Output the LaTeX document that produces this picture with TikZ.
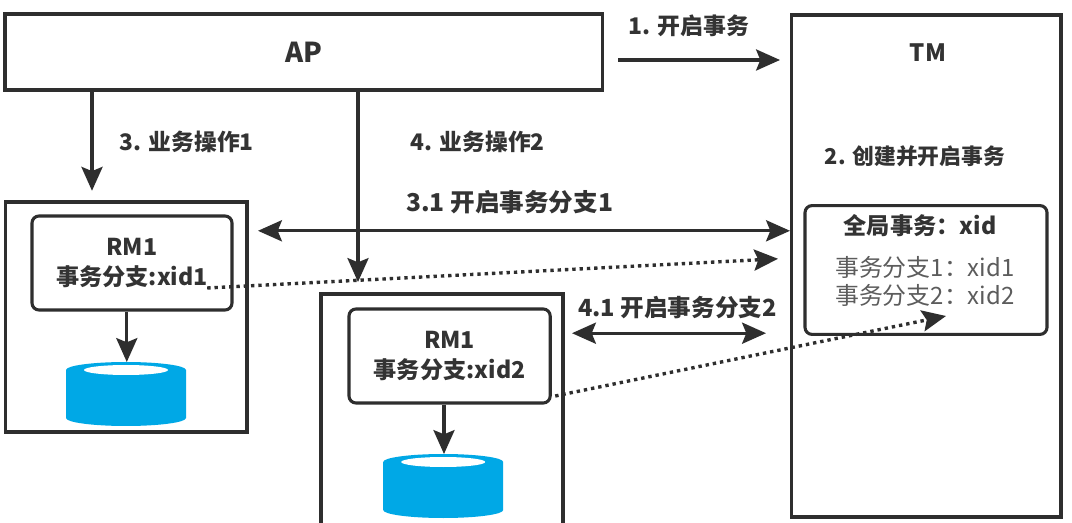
\documentclass[tikz,border=0pt]{standalone}
\usepackage{fontspec}
\setmainfont{Noto Sans CJK SC}
\usetikzlibrary{arrows.meta}
\definecolor{linegray}{HTML}{2E2E2E}
\definecolor{textgray}{HTML}{333333}
\definecolor{dbblue}{HTML}{00A8E6}
\tikzset{
	box/.style={draw=linegray, line width=2.2pt, inner sep=0pt},
	rmbox/.style={box, fill=white, rounded corners=5pt, align=center, font=\fontsize{16.5}{22}\selectfont\bfseries, text=textgray},
	lbl/.style={font=\fontsize{#1}{18}\selectfont\bfseries, text=textgray},
	arr/.style={line width=2.2pt, draw=linegray, -{Stealth[length=17pt,width=15pt,inset=3pt]}},
	dbl/.style={line width=2.2pt, draw=linegray, {Stealth[length=17pt,width=15pt,inset=3pt]}-{Stealth[length=17pt,width=15pt,inset=3pt]}},
	dot/.style={arr, line width=2.4pt, dash pattern=on 2.4pt off 2.8pt},
	dbpic/.pic={
		\fill[dbblue] (-1.5,0) arc (180:0:1.5 and .2) -- (1.5,-1.2) arc (0:-180:1.5 and .2) -- cycle;
		\fill[white] (0,0) ellipse (1.05 and .125);
	},
}
\begin{document}
\begin{tikzpicture}
	\clip (0,0) rectangle (26.8,13.05);
	\fill[white] (0,0) rectangle (26.8,13.05);

	\node[box, minimum width=14.93cm, minimum height=1.9cm, lbl=19.5] (AP) at (7.59,11.75){AP};
	\node[box, minimum width=6.73cm, minimum height=12.55cm] (TM) at (23.16,6.4){};
	\node[lbl=17] (TMname) at (23.2,11.73){TM};

	\node[box, minimum width=6.03cm, minimum height=5.75cm] (site1) at (3.16,5.125){};
	\node[box, minimum width=6.05cm, minimum height=5.9cm] (site2) at (11.05,2.75){};

	\node[rmbox, minimum width=5cm, minimum height=2.35cm] (rm1) at (3.3,6.475){RM1\\事务分支:xid1};
	\node[rmbox, minimum width=5.03cm, minimum height=2.35cm] (rm2) at (11.24,4.15){RM1\\事务分支:xid2};

	\node[box, fill=white, rounded corners=5pt, minimum width=6.05cm, minimum height=3.22cm] (global) at (23.15,6.3){};
	\node[lbl=16.5] (gtitle) at (23.0,7.42){全局事务：xid};
	\node[font=\fontsize{17}{20}\selectfont, text=textgray!80, align=center] (gbranch) at (23.12,6.02){事务分支1：xid1\\事务分支2：xid2};

	% databases
	\pic at (3.15,3.8) {dbpic};
	\pic at (11.08,1.5) {dbpic};
	\coordinate (db1) at (3.17,4.0);
	\coordinate (db2) at (11.1,1.7);

	\coordinate (a3) at (2.3,8.28);
	\coordinate (a4) at (8.95,6);
	\coordinate (a1s) at (15.45,11.55);
	\coordinate (a1e) at (19.5,11.55);
	\coordinate (d1s) at (6.45,7.28);
	\coordinate (d1e) at (19.75,7.28);
	\coordinate (d2s) at (14.3,4.72);
	\coordinate (d2e) at (19.15,4.72);
	\coordinate (p1s) at (5.18,5.85);
	\coordinate (p1e) at (19.45,6.58);
	\coordinate (p2s) at (13.88,3.15);
	\coordinate (p2e) at (23.65,5.15);

	\draw[arr] (AP.south -| a3) -- (a3);
	\draw[arr] (AP.south -| a4) -- (a4);
	\draw[arr] (a1s) -- (a1e);
	\draw[dbl] (d1s) -- (d1e);
	\draw[dbl] (d2s) -- (d2e);
	\draw[dot] (p1s) -- (p1e);
	\draw[dot] (p2s) -- (p2e);
	\draw[arr] (rm1.south -| db1) -- (db1);
	\draw[arr] (rm2.south -| db2) -- (db2);

	\node[lbl=16.3, anchor=west] (t1) at (15.6,12.4){1. 开启事务};
	\node[lbl=15.5, anchor=west] (t2) at (20.5,9.15){2. 创建并开启事务};
	\node[lbl=16.2, anchor=west] (t3) at (2.875,9.5){3. 业务操作1};
	\node[lbl=16.2, anchor=west] (t4) at (10.15,9.5){4. 业务操作2};
	\node[lbl=17.5, anchor=west] (t31) at (10.03,8){3.1 开启事务分支1};
	\node[lbl=16.8, anchor=west] (t41) at (14.33,5.35){4.1 开启事务分支2};
\end{tikzpicture}
\end{document}
